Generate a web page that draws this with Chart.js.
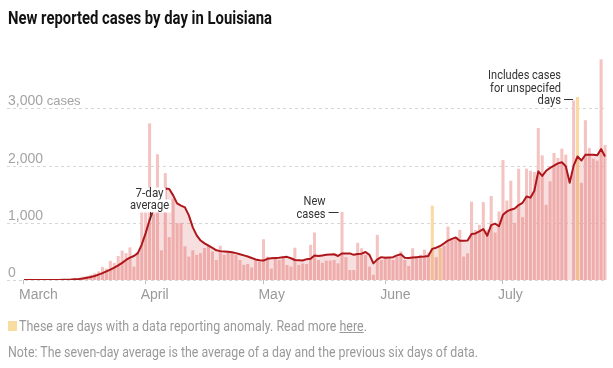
<!DOCTYPE html>
<html><head><meta charset="utf-8">
<script src="https://cdn.jsdelivr.net/npm/chart.js"></script>
<style>
html,body{margin:0;padding:0;background:#fff;}
#wrap{position:relative;width:613px;height:368px;overflow:hidden;}
canvas{position:absolute;left:0;top:0;}
.t{position:absolute;white-space:nowrap;font-family:Roboto,"Liberation Sans",sans-serif;transform-origin:0 50%;}
#title{left:8px;top:6px;font-size:18px;font-weight:bold;color:#121212;line-height:24px;}
#swatch{position:absolute;left:8px;top:321px;width:9px;height:10px;background:#f8dca0;}
#legend{left:19px;top:317px;font-size:14px;color:#999;line-height:18px;}
#note{left:8px;top:343px;font-size:14px;color:#999;line-height:18px;}
</style></head>
<body><div id="wrap">
<canvas id="c" width="613" height="368"></canvas>
<div class="t" id="title">New reported cases by day in Louisiana</div>
<div id="swatch"></div>
<div class="t" id="legend">These are days with a data reporting anomaly. Read more <u>here</u>.</div>
<div class="t" id="note">Note: The seven-day average is the average of a day and the previous six days of data.</div>
</div>
<script>
// ---- data ----
const startDay = '2020-03-01';
const monthNames = ['March','April','May','June','July'];
const yTickValues = [0, 1000, 2000, 3000];
const yTickLabels = ['0', '1,000', '2,000', '3,000'];
const anomalyDays = ['2020-06-13', '2020-06-15', '2020-07-20'];

const casesMar = [0,0,0,0,0,0,0,0,1,5,7,10,18,36,26,60,65,90,115,150,230,200,335,300,420,515,470,570,235,485,1230];
const casesApr = [1190,2740,1150,2200,520,1870,750,1420,990,1000,590,410,520,440,470,560,615,500,350,600,440,500,470,440,350,265,280,220,350,320];
const casesMay = [713,410,200,380,350,410,263,234,565,263,290,280,614,830,350,300,340,340,350,292,1190,400,175,175,650,555,440,234,90,790,350];
const casesJun = [410,400,350,410,500,350,245,555,410,440,530,480,1300,400,560,600,935,730,750,877,410,468,1370,877,965,1362,880,1470,830,1200];
const casesJul = [2100,1390,1737,1000,1947,1100,1947,1912,1889,2660,2180,1316,1725,2222,2134,2298,2193,0,3140,3200,1700,2795,2310,2123,2088,3860,2360];

const avgMar = [0,0,0,0,0,0,0,0,1,2,3,5,8,13,17,25,38,52,70,95,120,150,180,215,255,300,350,390,420,470,620];
const avgApr = [820,1050,1230,1400,1530,1600,1590,1480,1340,1300,1270,1130,920,780,690,640,600,560,520,505,500,495,485,470,450,430,410,385,360,345];
const avgMay = [340,370,380,385,390,400,405,380,350,345,340,365,370,430,420,430,440,445,450,420,465,465,465,440,455,460,490,440,290,360,400];
const avgJun = [390,395,400,430,450,390,385,395,400,405,410,420,545,565,595,640,690,720,745,685,685,690,805,815,850,890,775,960,985,940];
const avgJul = [1140,1200,1230,1250,1310,1350,1460,1440,1560,1900,1820,1910,1960,2000,2040,2060,1990,1700,2000,2160,2090,2190,2190,2190,2180,2290,2160];

const cases = [].concat(casesMar, casesApr, casesMay, casesJun, casesJul);
const avg = [].concat(avgMar, avgApr, avgMay, avgJun, avgJul);
const days = [];
const t0 = Date.parse(startDay + 'T00:00:00Z');
for (let i = 0; i < cases.length; i++) days.push(new Date(t0 + i * 86400000).toISOString().slice(0, 10));

const dayIndex = d => days.indexOf(d);
const isMonthStart = i => days[i] && days[i].endsWith('-01');
const monthLabel = i => monthNames[parseInt(days[i].slice(5, 7), 10) - 3];

const NARROW = 'Roboto,"Liberation Sans",sans-serif';
const REG = '"Liberation Sans",Arial,sans-serif';

// squeeze the HTML texts to the condensed widths of the reference
function fit(id, target) {
  const el = document.getElementById(id);
  el.style.transform = 'none';
  const w = el.getBoundingClientRect().width;
  el.style.transform = 'scaleX(' + (target / w) + ')';
}
function fitAll() { fit('title', 264); fit('legend', 348); fit('note', 470); }
fitAll();
if (document.fonts && document.fonts.ready) document.fonts.ready.then(fitAll);

const gridPlugin = {
  id: 'yGrid',
  beforeDatasetsDraw(chart) {
    const {ctx, chartArea, scales: {y}} = chart;
    ctx.save();
    ctx.strokeStyle = '#d6d6d6';
    ctx.lineWidth = 1;
    ctx.setLineDash([3, 3]);
    yTickValues.forEach((v, i) => {
      const py = Math.round(y.getPixelForValue(v)) + 0.5;
      ctx.beginPath(); ctx.moveTo(7, py); ctx.lineTo(chartArea.right, py); ctx.stroke();
      ctx.fillStyle = '#a3a3a3';
      ctx.font = '14px ' + REG;
      ctx.textBaseline = 'middle';
      ctx.textAlign = 'left';
      ctx.fillText(yTickLabels[i], 8, py - 7.5);
      if (i === yTickValues.length - 1) {
        const w = ctx.measureText(yTickLabels[i]).width;
        ctx.font = '13px ' + REG;
        ctx.fillText(' cases', 8 + w, py - 7);
      }
    });
    ctx.restore();
  }
};

const notePlugin = {
  id: 'notes',
  afterDatasetsDraw(chart) {
    const {ctx, scales: {x}} = chart;
    ctx.save();
    ctx.font = '13px ' + NARROW;
    ctx.textBaseline = 'middle';
    ctx.fillStyle = '#333';
    ctx.strokeStyle = '#333';
    ctx.lineWidth = 1;
    // 7-day average
    const ax = x.getPixelForValue(dayIndex('2020-04-02'));
    ctx.textAlign = 'center';
    [['7-day', 194, 28], ['average', 206, 39]].forEach(([s, yy, mw]) => {
      const w = Math.min(ctx.measureText(s).width, mw);
      ctx.fillStyle = '#fff';
      ctx.fillRect(ax - w / 2 - 2, yy - 6.5, w + 4, 13);
      ctx.fillStyle = '#333';
      ctx.fillText(s, ax, yy, mw);
    });
    ctx.beginPath(); ctx.moveTo(Math.round(ax) + 0.5, 212); ctx.lineTo(Math.round(ax) + 0.5, 220); ctx.stroke();
    // New cases
    const nx = x.getPixelForValue(dayIndex('2020-05-20')) - 12.5;
    ctx.textAlign = 'right';
    ctx.fillText('New', nx, 202, 22);
    ctx.fillText('cases', nx, 214.5, 29);
    ctx.beginPath(); ctx.moveTo(nx + 3, 212.5); ctx.lineTo(nx + 13, 212.5); ctx.stroke();
    // Includes cases for unspecified days
    const ix = x.getPixelForValue(dayIndex('2020-07-20')) - 16.5;
    ctx.fillText('Includes cases', ix, 76, 73);
    ctx.fillText('for unspecifed', ix, 88.5, 71);
    ctx.fillText('days', ix, 101, 23.5);
    ctx.beginPath(); ctx.moveTo(ix + 3, 99.5); ctx.lineTo(ix + 12, 99.5); ctx.stroke();
    ctx.restore();
  }
};

new Chart(document.getElementById('c'), {
  data: {
    labels: days,
    datasets: [
      {
        type: 'line', data: avg, order: 0,
        borderColor: '#ad171c', borderWidth: 2, pointRadius: 0, tension: 0,
        borderJoinStyle: 'round', fill: 'origin', backgroundColor: 'rgba(205,25,25,0.14)'
      },
      {
        type: 'bar', data: cases, order: 1,
        backgroundColor: ctx => anomalyDays.includes(days[ctx.dataIndex]) ? '#f8daa2' : '#f4c4c3',
        barPercentage: 0.78, categoryPercentage: 1, borderWidth: 0
      }
    ]
  },
  options: {
    responsive: false, animation: false, devicePixelRatio: 1,
    layout: {padding: {left: 22, right: 6, top: 57, bottom: 58}},
    plugins: {legend: {display: false}, tooltip: {enabled: false}},
    scales: {
      y: {display: false, min: 0, max: 3900},
      x: {
        offset: true,
        afterFit(s) { s.height = 30; },
        border: {display: false},
        grid: {
          offset: false, drawOnChartArea: false, drawTicks: true, tickLength: 4,
          color: c => isMonthStart(c.index) ? '#bdbdbd' : 'rgba(0,0,0,0)'
        },
        ticks: {
          autoSkip: false, maxRotation: 0, minRotation: 0, align: 'start', labelOffset: -5, padding: 3,
          color: '#9a9a9a', font: {size: 14, family: REG},
          callback: (v, i) => isMonthStart(i) ? monthLabel(i) : ''
        }
      }
    }
  },
  plugins: [gridPlugin, notePlugin]
});
</script>
</body></html>
